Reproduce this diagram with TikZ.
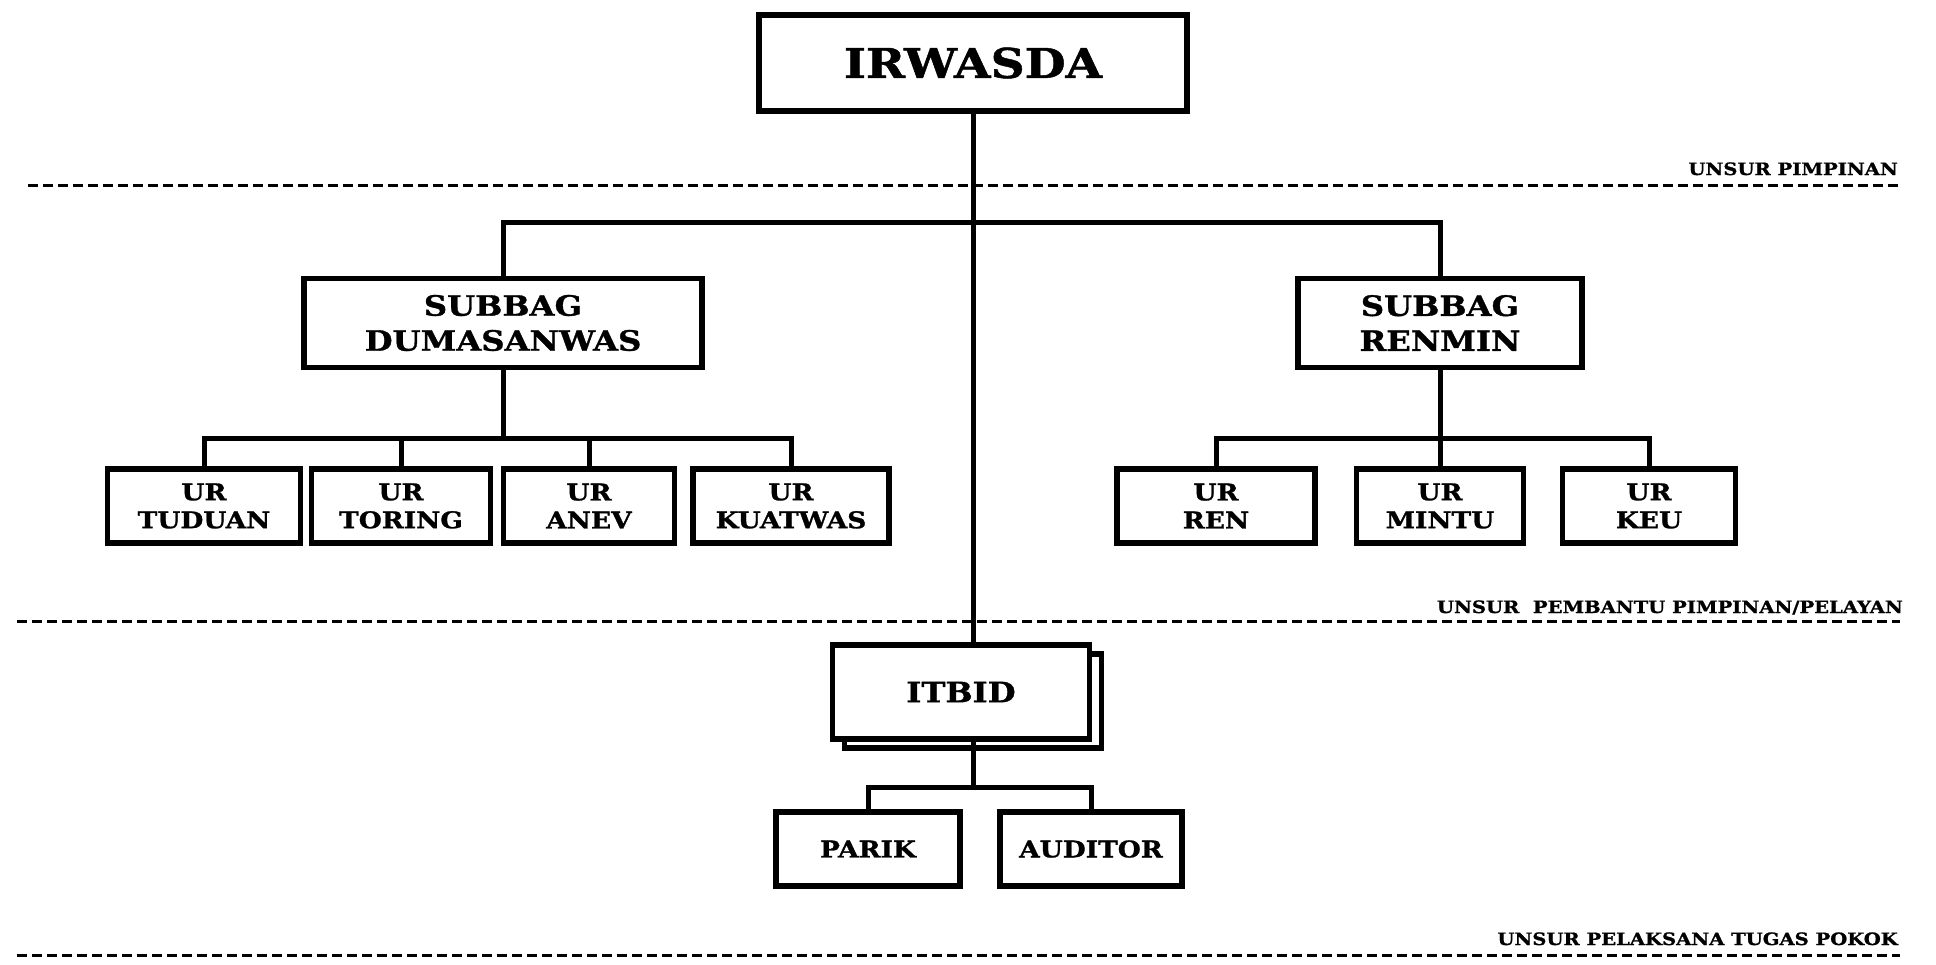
\documentclass[tikz,border=0pt]{standalone}
\usepackage{fontspec}
\setmainfont{DejaVu Serif}[FakeStretch=1.15, BoldFeatures={FakeBold=1.2}]
\usetikzlibrary{shadows}
\tikzset{x=1pt, y=-1pt, % one unit is one pixel, y runs down
unit/.style={draw, line width=5.5pt, fill=white, align=center, inner sep=0pt}, % every box of the chart
head/.style={unit, minimum width=428pt, minimum height=96pt, font=\bfseries\fontsize{41}{44}\selectfont}, % the top box
subbag/.style={unit, minimum height=89pt, font=\bfseries\fontsize{28}{35}\selectfont}, % second level boxes
urusan/.style={unit, minimum height=74pt, font=\bfseries\fontsize{23}{28}\selectfont}, % the small boxes
link/.style={line width=5pt}, % lines between the boxes
sekat/.style={line width=3pt, dash pattern=on 10pt off 5pt}, % dashed rules
sekatlabel/.style={anchor=base east, inner sep=0pt, font=\bfseries\fontsize{17}{17}\selectfont}, % text over a rule
}
\begin{document}
\begin{tikzpicture}
    \useasboundingbox (0,0) rectangle (1936,964);
    % rules between the levels
    \draw[sekat] (28,185) -- (1900,185);
    \draw[sekat] (17,621) -- (1900,621);
    \draw[sekat] (17,955) -- (1900,955);
    \node[sekatlabel] (pimpinan) at (1898,175) {UNSUR PIMPINAN};
    \node[sekatlabel] (pembantu) at (1903,613) {UNSUR~~PEMBANTU PIMPINAN/PELAYAN};
    \node[sekatlabel] (pelaksana) at (1898,945) {UNSUR PELAKSANA TUGAS POKOK};

    \node[head] (irwasda) at (973,63) {IRWASDA};
    \node[subbag, minimum width=398pt] (dumas) at (503,323) {SUBBAG\\DUMASANWAS};
    \node[subbag, minimum width=284pt] (renmin) at (1440,323) {SUBBAG\\RENMIN};
    \node[urusan, minimum width=193pt] (tuduan) at (204,506) {UR\\TUDUAN};
    \node[urusan, minimum width=179pt] (toring) at (401,506) {UR\\TORING};
    \node[urusan, minimum width=171pt] (anev) at (589,506) {UR\\ANEV};
    \node[urusan, minimum width=196pt] (kuatwas) at (791,506) {UR\\KUATWAS};
    \node[urusan, minimum width=198pt] (ren) at (1216,506) {UR\\REN};
    \node[urusan, minimum width=167pt] (mintu) at (1440,506) {UR\\MINTU};
    \node[urusan, minimum width=173pt] (keu) at (1649,506) {UR\\KEU};
    \node[subbag, minimum width=257pt, minimum height=94pt,
      copy shadow={shadow xshift=12pt, shadow yshift=-9pt, draw, line width=5.5pt, fill=white}] (itbid) at (961,692) {ITBID};
    \node[urusan, minimum width=184pt] (parik) at (868,849) {PARIK};
    \node[urusan, minimum width=182pt] (auditor) at (1091,849) {AUDITOR};

    \coordinate (topbus) at (973,222);
    \coordinate (dbus) at (503,438);
    \coordinate (rbus) at (1440,438);
    \coordinate (itbus) at (973,787);

    \draw[link] (irwasda.south) -- (irwasda.south |- itbid.north);
    \draw[link] (dumas.north) |- (topbus) -| (renmin.north);
    \draw[link] (dumas.south) -- (dbus);
    \draw[link] (tuduan.north) |- (dbus) -| (kuatwas.north);
    \draw[link] (toring.north) -- (toring.north |- dbus);
    \draw[link] (anev.north) -- (anev.north |- dbus);
    \draw[link] (renmin.south) -- (mintu.north);
    \draw[link] (ren.north) |- (rbus) -| (keu.north);
    \draw[link] (itbid.south -| itbus) -- (itbus);
    \draw[link] (parik.north) |- (itbus) -| (auditor.north);
\end{tikzpicture}
\end{document}
